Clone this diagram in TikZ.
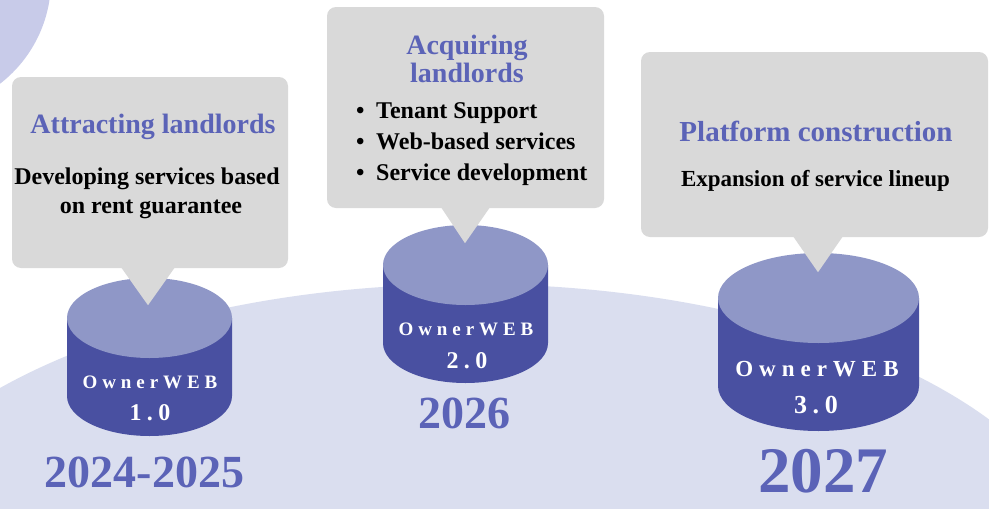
\documentclass[tikz,border=0pt]{standalone}
\usepackage{fontspec}
\setmainfont{Liberation Serif}
\usetikzlibrary{calc}
\definecolor{bgfill}{HTML}{DADEEF}
\definecolor{blobfill}{HTML}{C8CBE9}
\definecolor{boxgray}{HTML}{D9D9D9}
\definecolor{drumtopc}{HTML}{8F97C7}
\definecolor{drumsidec}{HTML}{4950A1}
\definecolor{accent}{HTML}{5B63B7}
% cylinder: #1 centre x, #2 top-centre y, #3 bottom-centre y, #4 x radius, #5 y radius
\newcommand{\drumshape}[5]{%
  \fill[drumsidec] (#1-#4,#2) -- (#1-#4,#3)
    arc[start angle=180,end angle=360,x radius=#4pt,y radius=#5pt]
    -- (#1+#4,#2) -- cycle;
  \fill[drumtopc] (#1,#2) ellipse[x radius=#4pt,y radius=#5pt];
}
\begin{document}
\begin{tikzpicture}[x=1pt,y=-1pt,
  bubble/.style={fill=boxgray,draw=none,rounded corners=9pt,inner sep=0pt},
  pointer/.style={fill=boxgray},
  headline/.style={font=\bfseries\fontsize{28}{28}\selectfont,text=accent,anchor=base,inner sep=0pt},
  bodyline/.style={font=\bfseries\fontsize{24}{24}\selectfont,text=black,anchor=base,inner sep=0pt},
  bulletline/.style={bodyline,anchor=base west},
  brand/.style={font=\bfseries\fontsize{19}{19}\selectfont\addfontfeature{LetterSpace=26},text=white,anchor=base,inner sep=0pt},
  version/.style={font=\bfseries\fontsize{24}{24}\selectfont\addfontfeature{LetterSpace=22},text=white,anchor=base,inner sep=0pt},
  yearlabel/.style={font=\bfseries\fontsize{46}{46}\selectfont,text=accent,anchor=base,inner sep=0pt}]
\useasboundingbox (0,0) rectangle (989,509);
\clip (0,0) rectangle (989,509);

% background shapes
\fill[bgfill] (470,583) ellipse[x radius=620pt,y radius=299pt];
\fill[blobfill] (-80,-20) circle[radius=131pt];

% cylinders
\drumshape{149.5}{318}{396}{82.5}{40}
\drumshape{465.5}{265}{343}{82.5}{40}
\drumshape{818.5}{298}{386}{100.5}{45}

% speech bubbles
\node[bubble,minimum width=276pt,minimum height=191pt] (b1) at (150,172.5) {};
\node[bubble,minimum width=277pt,minimum height=201pt] (b2) at (465.5,107.5) {};
\node[bubble,minimum width=347pt,minimum height=185pt] (b3) at (814.5,144.5) {};
\fill[pointer] ($(b1.south)+(-29,-1)$) -- ($(b1.south)+(25,-1)$) -- ($(b1.south)+(-2,37)$) -- cycle;
\fill[pointer] ($(b2.south)+(-24.5,-1)$) -- ($(b2.south)+(24.5,-1)$) -- ($(b2.south)+(-0.5,35)$) -- cycle;
\fill[pointer] ($(b3.south)+(-21.5,-1)$) -- ($(b3.south)+(28.5,-1)$) -- ($(b3.south)+(3.5,35)$) -- cycle;

% bubble 1
\node[headline] (t1) at (153,133) {Attracting landlords};
\node[bodyline] (d1a) at (147,184) {Developing services based};
\node[bodyline] (d1b) at (151,213) {on rent guarantee};

% bubble 2
\node[headline] (t2a) at (467,54) {Acquiring};
\node[headline] (t2b) at (467,82) {landlords};
\node[bulletline] (l2a) at (356,118) {\makebox[20pt][l]{•}Tenant Support};
\node[bulletline] (l2b) at (356,149) {\makebox[20pt][l]{•}Web-based services};
\node[bulletline] (l2c) at (356,180) {\makebox[20pt][l]{•}Service development};

% bubble 3
\node[headline,font=\bfseries\fontsize{29}{29}\selectfont] (t3) at (816,141) {Platform construction};
\node[bodyline,font=\bfseries\fontsize{23}{23}\selectfont] (d3) at (815.5,186) {Expansion of service lineup};

% cylinder labels
\node[brand] (o1) at (150,388) {OwnerWEB};
\node[version] (v1) at (150,420) {1.0};
\node[brand] (o2) at (466,335) {OwnerWEB};
\node[version] (v2) at (467,368) {2.0};
\node[brand,font=\bfseries\fontsize{23}{23}\selectfont\addfontfeature{LetterSpace=26}] (o3) at (817,376) {OwnerWEB};
\node[version,font=\bfseries\fontsize{26}{26}\selectfont\addfontfeature{LetterSpace=22}] (v3) at (816,413) {3.0};

% years
\node[yearlabel] (y1) at (144.5,487) {2024-2025};
\node[yearlabel] (y2) at (464,428) {2026};
\node[yearlabel,font=\bfseries\fontsize{65}{65}\selectfont] (y3) at (823,492) {2027};
\end{tikzpicture}
\end{document}
